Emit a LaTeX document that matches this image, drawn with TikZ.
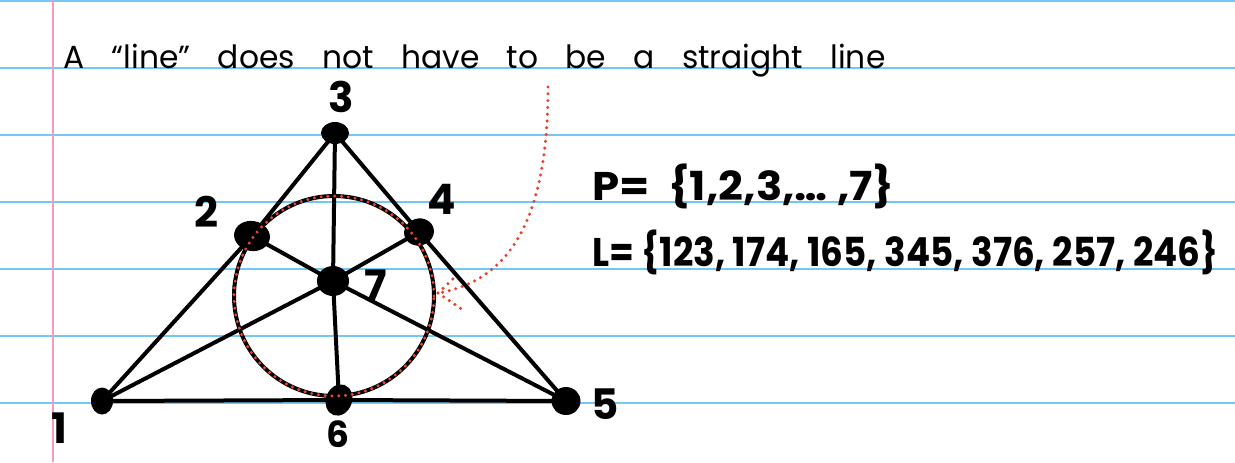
\documentclass[tikz,border=0pt]{standalone}
\usepackage{fontspec}
\setmainfont{Poppins}
\usetikzlibrary{shapes.geometric,backgrounds}
\definecolor{ruleblue}{HTML}{72C8F2}
\definecolor{marginpink}{HTML}{F49BBE}
\definecolor{penred}{HTML}{E8432E}
\begin{document}
\begin{tikzpicture}[x=0.5pt,y=-0.5pt,
  dot/.style={ellipse, fill=black, inner sep=0pt},
  fano/.style={black, line width=2pt},
  reddot/.style={penred, line width=1.7pt, line cap=round, dash pattern=on 0pt off 3.4pt},
  ptlabel/.style={inner sep=0pt, font=\bfseries\fontsize{21}{21}\selectfont},
  rule/.style={ruleblue, line width=1.2pt}]
\useasboundingbox (0,0) rectangle (1235,462);
% points
\node[dot, minimum width=11pt, minimum height=13.5pt] (p1) at (102,401) {};
\node[dot, minimum width=18pt, minimum height=15pt, rotate=-10] (p2) at (252,236) {};
\node[dot, minimum width=14pt, minimum height=11pt] (p3) at (335,133) {};
\node[dot, minimum width=15pt, minimum height=13.5pt, rotate=15] (p4) at (419,232) {};
\node[dot, minimum width=14.5pt, minimum height=14pt] (p5) at (566,401) {};
\node[dot, minimum width=13pt, minimum height=16pt, rotate=-20] (p6) at (339,400) {};
\node[dot, minimum width=16pt, minimum height=15pt] (p7) at (333,281) {};
\coordinate (cc) at (334,296);
\begin{pgfonlayer}{background}
  \fill[white] (0,0) rectangle (1235,462);
  \foreach \yy in {1,68,135,202,269,336,403} \draw[rule] (0,\yy) -- (1235,\yy);
  \draw[marginpink, line width=1pt] (53,0) -- (53,462);
  \draw[fano] (p1.center) -- (p2.center) -- (p3.center);
  \draw[fano] (p3.center) -- (p4.center) -- (p5.center);
  \draw[fano] (p1.center) -- (p6.center) -- (p5.center);
  \draw[fano] (p3.center) -- (p7.center) -- (p6.center);
  \draw[fano] (p1.center) -- (p7.center) -- (p4.center);
  \draw[fano] (p5.center) -- (p7.center) -- (p2.center);
  \draw[fano] (cc) circle[radius=50pt];
\end{pgfonlayer}
\draw[reddot] (cc) circle[radius=50pt];
% labels
\node[ptlabel] (l1) at (59,428) {1};
\node[ptlabel] (l2) at (206,212) {2};
\node[ptlabel] (l3) at (341,97) {3};
\node[ptlabel] (l4) at (442,199) {4};
\node[ptlabel] (l5) at (605,404) {5};
\node[ptlabel, font=\bfseries\fontsize{18}{18}\selectfont] (l6) at (338,434) {6};
\node[ptlabel] (l7) at (376,285) {7};
% annotation arrow
\coordinate (rs) at (548,87);
\coordinate (tip) at (438,293);
\draw[reddot] (rs) .. controls (548,210) and (515,280) .. (tip);
\draw[reddot] (tip) -- ++(16,-15);
\draw[reddot] (tip) -- ++(25,17);
% texts
\node[anchor=base west, inner sep=0pt] (title) at (63,68)
  {\resizebox{411pt}{\height}{\fontsize{16}{16}\selectfont\spaceskip=14pt A “line” does not have to be a straight line}};
\node[anchor=base west, inner sep=0pt] (P) at (592,200)
  {\resizebox{151pt}{\height}{\bfseries\fontsize{20}{20}\selectfont P=\ \ \{1,2,3,\dots\ ,7\}}};
\node[anchor=base west, inner sep=0pt] (L) at (592,266)
  {\resizebox{313pt}{\height}{\bfseries\fontsize{20}{20}\selectfont L= \{123, 174, 165, 345, 376, 257, 246\}}};
\end{tikzpicture}
\end{document}
